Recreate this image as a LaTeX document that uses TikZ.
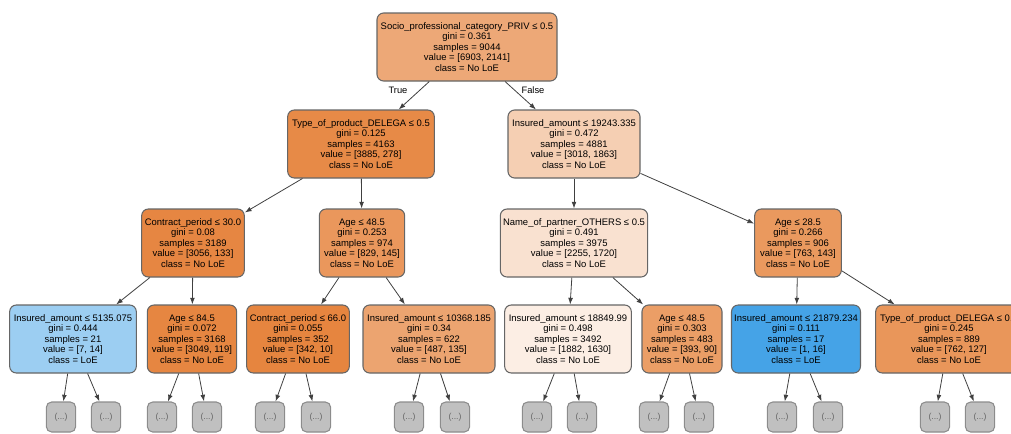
\documentclass[tikz,border=0pt]{standalone}
\usepackage{fontspec}
\setmainfont{Liberation Sans}
\usetikzlibrary{arrows.meta}
\definecolor{cRoot}{RGB}{237,168,119}
\definecolor{cTypeL}{RGB}{231,138,71}
\definecolor{cInsR}{RGB}{245,207,179}
\definecolor{cConA}{RGB}{230,134,66}
\definecolor{cAgeA}{RGB}{234,151,92}
\definecolor{cName}{RGB}{249,225,208}
\definecolor{cAgeB}{RGB}{234,153,94}
\definecolor{cInsA}{RGB}{156,206,242}
\definecolor{cAgeC}{RGB}{230,134,65}
\definecolor{cConB}{RGB}{230,133,63}
\definecolor{cInsB}{RGB}{236,164,112}
\definecolor{cInsC}{RGB}{252,238,228}
\definecolor{cAgeD}{RGB}{235,158,102}
\definecolor{cInsD}{RGB}{69,163,231}
\definecolor{cTypeR}{RGB}{233,150,90}
\definecolor{leafgrey}{RGB}{192,192,192}
\begin{document}
\begin{tikzpicture}[x=0.75pt,y=-0.75pt,
  tn/.style={draw=black!60, line width=0.8pt, rounded corners=5pt, align=center,
    font=\fontsize{7.1}{7.8}\selectfont, minimum height=51pt, inner xsep=2pt, inner ysep=1pt},
  lf/.style={draw=black!45, line width=0.8pt, fill=leafgrey, rounded corners=4pt,
    minimum width=22pt, minimum height=22.5pt, inner sep=0pt,
    font=\fontsize{6.5}{7}\selectfont, text=black!60},
  ed/.style={draw=black!75, line width=0.6pt, -{Latex[length=5pt,width=3.6pt]}},
  el/.style={font=\fontsize{7}{8}\selectfont}]
\useasboundingbox (0,0) rectangle (1011,433);

% level 0
\node[tn, fill=cRoot, minimum width=135pt] (root) at (467,47)
  {Socio\_professional\_category\_PRIV ≤ 0.5\\gini = 0.361\\samples = 9044\\value = [6903, 2141]\\class = No LoE};
% level 1
\node[tn, fill=cTypeL, minimum width=110pt] (typeL) at (361,144)
  {Type\_of\_product\_DELEGA ≤ 0.5\\gini = 0.125\\samples = 4163\\value = [3885, 278]\\class = No LoE};
\node[tn, fill=cInsR, minimum width=99pt] (insR) at (574,144)
  {Insured\_amount ≤ 19243.335\\gini = 0.472\\samples = 4881\\value = [3018, 1863]\\class = No LoE};
% level 2
\node[tn, fill=cConA, minimum width=77pt] (conA) at (193,243)
  {Contract\_period ≤ 30.0\\gini = 0.08\\samples = 3189\\value = [3056, 133]\\class = No LoE};
\node[tn, fill=cAgeA, minimum width=64pt] (ageA) at (362,243)
  {Age ≤ 48.5\\gini = 0.253\\samples = 974\\value = [829, 145]\\class = No LoE};
\node[tn, fill=cName, minimum width=110pt] (name) at (574,243)
  {Name\_of\_partner\_OTHERS ≤ 0.5\\gini = 0.491\\samples = 3975\\value = [2255, 1720]\\class = No LoE};
\node[tn, fill=cAgeB, minimum width=65pt] (ageB) at (798,243)
  {Age ≤ 28.5\\gini = 0.266\\samples = 906\\value = [763, 143]\\class = No LoE};
% level 3
\node[tn, fill=cInsA, minimum width=95pt] (insA) at (73,339)
  {Insured\_amount ≤ 5135.075\\gini = 0.444\\samples = 21\\value = [7, 14]\\class = LoE};
\node[tn, fill=cAgeC, minimum width=67pt] (ageC) at (192,339)
  {Age ≤ 84.5\\gini = 0.072\\samples = 3168\\value = [3049, 119]\\class = No LoE};
\node[tn, fill=cConB, minimum width=77pt] (conB) at (298,339)
  {Contract\_period ≤ 66.0\\gini = 0.055\\samples = 352\\value = [342, 10]\\class = No LoE};
\node[tn, fill=cInsB, minimum width=99pt] (insB) at (429,339)
  {Insured\_amount ≤ 10368.185\\gini = 0.34\\samples = 622\\value = [487, 135]\\class = No LoE};
\node[tn, fill=cInsC, minimum width=95pt] (insC) at (568,339)
  {Insured\_amount ≤ 18849.99\\gini = 0.498\\samples = 3492\\value = [1882, 1630]\\class = No LoE};
\node[tn, fill=cAgeD, minimum width=60pt] (ageD) at (682,339)
  {Age ≤ 48.5\\gini = 0.303\\samples = 483\\value = [393, 90]\\class = No LoE};
\node[tn, fill=cInsD, minimum width=96pt] (insD) at (796,339)
  {Insured\_amount ≤ 21879.234\\gini = 0.111\\samples = 17\\value = [1, 16]\\class = LoE};
\node[tn, fill=cTypeR, minimum width=110pt] (typeR) at (949,339)
  {Type\_of\_product\_DELEGA ≤ 0.5\\gini = 0.245\\samples = 889\\value = [762, 127]\\class = No LoE};
% leaves
\foreach \n/\x in {l1/61,l2/106,l3/162,l4/207,l5/270,l6/316,l7/409,l8/455,
                   l9/537,l10/582,l11/654,l12/699,l13/782,l14/828,l15/935,l16/980}
  \node[lf] (\n) at (\x,417) {(...)};

% edges
\draw[ed] (root) -- (typeL);
\draw[ed] (root) -- (insR);
\node[el] (tlab) at (398,90) {True};
\node[el] (flab) at (533,90) {False};
\draw[ed] (typeL) -- (conA);
\draw[ed] (typeL) -- (ageA);
\draw[ed] (insR) -- (name);
\draw[ed] (insR) -- (ageB);
\draw[ed] (conA) -- (insA);
\draw[ed] (conA) -- (ageC);
\draw[ed] (ageA) -- (conB);
\draw[ed] (ageA) -- (insB);
\draw[ed] (name) -- (insC);
\draw[ed] (name) -- (ageD);
\draw[ed] (ageB) -- (insD);
\draw[ed] (ageB) -- (typeR);
\draw[ed] (insA) -- (l1);
\draw[ed] (insA) -- (l2);
\draw[ed] (ageC) -- (l3);
\draw[ed] (ageC) -- (l4);
\draw[ed] (conB) -- (l5);
\draw[ed] (conB) -- (l6);
\draw[ed] (insB) -- (l7);
\draw[ed] (insB) -- (l8);
\draw[ed] (insC) -- (l9);
\draw[ed] (insC) -- (l10);
\draw[ed] (ageD) -- (l11);
\draw[ed] (ageD) -- (l12);
\draw[ed] (insD) -- (l13);
\draw[ed] (insD) -- (l14);
\draw[ed] (typeR) -- (l15);
\draw[ed] (typeR) -- (l16);
\end{tikzpicture}
\end{document}
